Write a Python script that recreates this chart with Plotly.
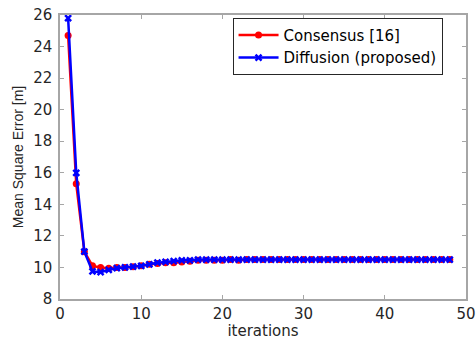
import plotly.graph_objects as go

iterations = list(range(1, 49))
consensus = [24.7, 15.3, 11.0, 10.1, 10.0, 9.95, 10.0, 10.0, 10.05, 10.1,
             10.2, 10.25, 10.3, 10.3, 10.35, 10.4, 10.45, 10.45, 10.45, 10.45,
             10.5, 10.45, 10.5, 10.5, 10.5, 10.5, 10.5, 10.5, 10.5, 10.5,
             10.5, 10.5, 10.5, 10.5, 10.5, 10.5, 10.5, 10.5, 10.5, 10.5,
             10.5, 10.5, 10.5, 10.5, 10.5, 10.5, 10.5, 10.5]
diffusion = [25.8, 16.0, 11.0, 9.75, 9.7, 9.85, 9.95, 10.0, 10.05, 10.1,
             10.2, 10.3, 10.35, 10.4, 10.45, 10.45, 10.5, 10.5, 10.5, 10.5,
             10.5, 10.5, 10.5, 10.5, 10.5, 10.5, 10.5, 10.5, 10.5, 10.5,
             10.5, 10.5, 10.5, 10.5, 10.5, 10.5, 10.5, 10.5, 10.5, 10.5,
             10.5, 10.5, 10.5, 10.5, 10.5, 10.5, 10.5, 10.5]

fig = go.Figure()
fig.add_trace(go.Scatter(x=iterations, y=consensus, mode="lines+markers",
                         name="Consensus [16]",
                         line=dict(color="#ff0000", width=2.5),
                         marker=dict(symbol="circle", size=7, color="#ff0000")))
fig.add_trace(go.Scatter(x=iterations, y=diffusion, mode="lines+markers",
                         name="Diffusion (proposed)",
                         line=dict(color="#0000ff", width=2.5),
                         marker=dict(symbol="x-thin", size=6, color="#0000ff",
                                     line=dict(color="#0000ff", width=2.5))))

tick_font = dict(family="DejaVu Sans, Arial, sans-serif", size=15, color="#262626")
axis_common = dict(showgrid=False, zeroline=False, showline=True, linecolor="#a6a6a6",
                   linewidth=1.5, mirror="ticks", ticks="inside", ticklen=4,
                   tickcolor="#a6a6a6", tickfont=tick_font, automargin=False)

fig.update_layout(
    width=476, height=340,
    margin=dict(l=60, r=10, t=15, b=41),
    paper_bgcolor="white", plot_bgcolor="white",
    xaxis=dict(range=[0, 50], tickvals=[0, 10, 20, 30, 40, 50], ticklabelstandoff=0,
               title=dict(text="iterations", standoff=0,
                          font=dict(family="DejaVu Sans, Arial, sans-serif", size=15, color="#262626")),
               **axis_common),
    yaxis=dict(range=[8, 26], tickvals=[8, 10, 12, 14, 16, 18, 20, 22, 24, 26],
               ticklabelstandoff=3,
               title=dict(text="Mean Square Error [m]", standoff=6,
                          font=dict(family="Liberation Sans Narrow, Arial Narrow, sans-serif", size=14, color="#262626")),
               **axis_common),
    legend=dict(x=0.425, y=0.99, xanchor="left", yanchor="top",
                bgcolor="white", bordercolor="#262626", borderwidth=1,
                font=dict(family="DejaVu Sans, Arial, sans-serif", size=15, color="#000000"),
                tracegroupgap=0, itemwidth=40),
    showlegend=True,
)

fig.write_html("out.html")
